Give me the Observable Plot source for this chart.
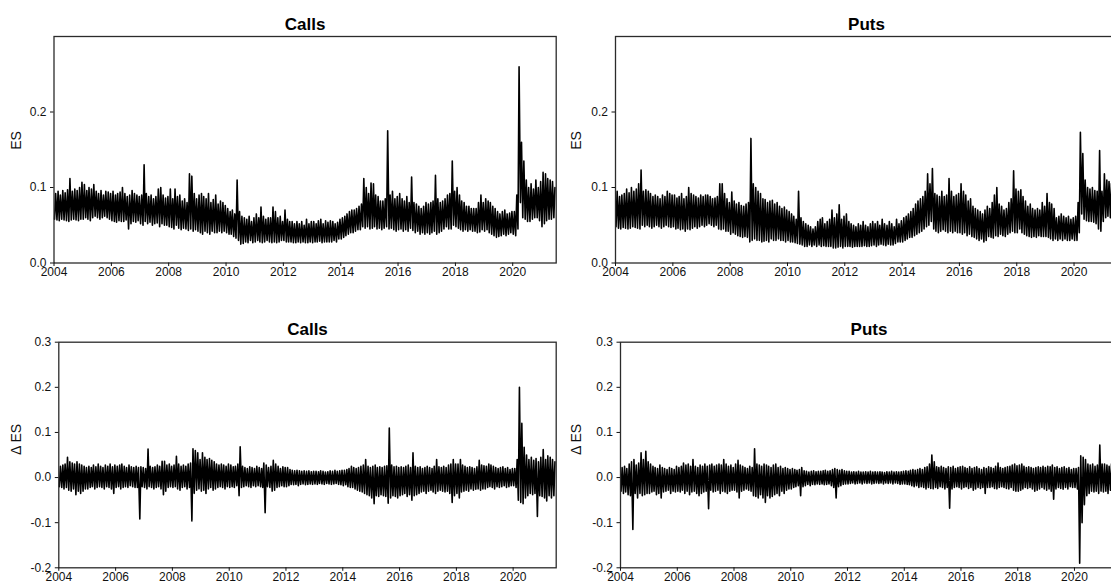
<!DOCTYPE html>
<html><head><meta charset="utf-8">
<script src="https://cdn.jsdelivr.net/npm/d3@7"></script>
<script src="https://cdn.jsdelivr.net/npm/@observablehq/plot@0.6"></script>
<style>
html,body{margin:0;padding:0;background:#fff;}
body{width:1111px;height:587px;overflow:hidden;position:relative;font-family:"Liberation Sans",Arial,Helvetica,sans-serif;}
.panel{position:absolute;}
.panel svg{max-width:none !important;}
</style></head><body>
<div id="tl" class="panel" style="left:0px;top:0px;width:560px"></div>
<div id="tr" class="panel" style="left:560px;top:0px;width:562px"></div>
<div id="bl" class="panel" style="left:0px;top:290px;width:560px"></div>
<div id="br" class="panel" style="left:560px;top:290px;width:562px"></div>
<script>
// Monthly envelope (daily min / max within each month), Jan 2004 .. Jun 2021, in units of 0.001
const firstMonth = "2004-01-01";
const endMonth = "2021-07-01";

const callsESLo = [
58,57,56,58,57,56,55,57,58,57,56,58,
58,60,58,56,60,62,60,58,60,62,60,58,
56,55,54,56,55,55,57,45,52,55,54,56,
52,50,55,52,54,50,52,53,48,52,50,50,
48,47,45,50,46,44,46,45,43,45,42,44,
42,40,38,42,40,38,42,40,40,42,40,42,
40,38,38,35,33,30,25,26,28,27,30,27,
28,30,28,27,28,30,28,27,28,27,28,30,
30,28,28,28,27,27,28,27,28,27,27,28,
27,28,28,29,27,28,28,28,28,30,28,32,
32,34,36,38,40,40,42,44,44,48,46,48,
45,46,48,45,46,44,46,48,45,46,44,42,
44,45,42,44,42,46,43,40,42,38,40,38,
40,38,40,42,38,40,42,45,48,45,45,50,
48,46,44,42,44,42,44,42,42,40,41,44,
42,44,40,38,36,34,35,36,38,36,38,40,
38,36,45,80,60,58,55,55,58,60,60,56,
48,52,56,58,58,60];
const callsESHi = [
92,95,90,96,93,97,112,95,98,96,100,107,
104,96,100,98,104,95,92,96,90,95,94,92,
95,90,92,94,100,92,88,90,96,92,90,88,
90,130,92,88,90,85,88,98,100,90,86,88,
98,85,98,88,90,82,85,80,118,115,92,85,
90,92,88,85,92,80,84,90,78,82,80,76,
72,68,70,65,110,68,62,60,58,62,55,60,
65,60,74,62,58,60,60,74,68,60,62,55,
70,58,55,55,52,55,52,55,50,58,52,55,
55,52,56,58,52,56,54,56,55,52,54,58,
60,62,65,68,70,70,72,75,78,112,100,92,
106,105,90,88,82,82,85,175,90,95,85,88,
92,85,82,88,80,114,80,78,75,72,75,80,
78,80,82,116,85,80,82,85,90,92,135,95,
100,90,82,80,75,75,72,72,72,80,90,80,
85,82,80,75,72,68,65,68,70,65,66,68,
68,90,260,160,135,110,100,105,98,110,100,108,
120,118,112,110,108,100];

const putsESLo = [
48,46,45,47,46,45,46,48,47,46,45,50,
48,50,48,46,48,50,48,46,48,50,48,47,
48,45,46,44,45,42,45,44,46,48,46,48,
50,48,50,52,50,48,50,45,44,45,42,42,
38,40,38,36,35,34,35,34,28,30,32,30,
30,28,29,30,28,32,30,30,32,30,30,28,
30,28,28,27,26,25,24,22,22,24,22,24,
22,24,22,23,22,22,22,20,20,21,22,20,
22,22,22,21,22,22,22,22,23,22,22,23,
24,22,24,25,24,23,25,24,24,26,28,28,
28,30,32,34,34,36,38,40,42,45,48,50,
55,45,42,40,42,44,42,40,42,40,42,40,
40,38,40,36,38,35,34,32,30,32,28,30,
35,34,33,36,35,38,36,35,38,40,42,40,
40,45,40,38,36,35,34,35,34,36,35,35,
35,34,32,30,32,30,32,30,32,30,30,32,
30,30,40,65,58,56,55,55,54,52,45,42,
55,60,62,60,60,58];
const putsESHi = [
95,88,90,92,98,93,100,95,98,105,123,95,
97,95,92,88,90,88,85,90,88,95,92,90,
90,86,88,92,85,88,100,92,90,88,86,90,
88,90,90,88,85,86,88,105,105,92,85,80,
94,82,78,80,76,75,78,80,165,105,100,95,
92,85,84,80,82,83,78,80,75,72,74,70,
68,65,62,58,95,60,55,52,50,48,45,48,
55,58,60,52,55,58,70,60,65,77,58,62,
65,55,52,50,48,52,50,55,50,48,52,55,
52,55,50,58,52,50,55,52,48,58,52,56,
60,62,65,68,72,78,82,85,88,95,118,105,
125,92,90,88,95,88,90,112,95,88,90,92,
105,95,90,82,85,75,72,70,68,65,70,75,
72,80,90,100,78,75,70,72,80,85,122,98,
95,97,88,82,75,78,72,70,72,70,80,75,
92,80,78,72,60,62,65,62,60,62,58,60,
62,80,173,145,110,100,98,100,96,95,149,95,
118,110,108,105,100,95];

const callsDLo = [
-20,-22,-25,-22,-28,-30,-25,-38,-30,-35,-30,-25,
-25,-22,-20,-25,-22,-20,-22,-25,-20,-22,-25,-35,
-22,-20,-25,-22,-20,-22,-18,-20,-22,-22,-92,-20,
-22,-25,-20,-22,-25,-22,-20,-25,-38,-30,-22,-20,
-22,-20,-25,-28,-22,-20,-25,-22,-96,-35,-28,-25,
-30,-28,-35,-25,-22,-28,-25,-22,-20,-22,-25,-20,
-22,-20,-22,-18,-40,-22,-20,-18,-20,-22,-18,-20,
-18,-20,-22,-78,-20,-22,-30,-28,-22,-20,-18,-20,
-20,-18,-15,-16,-15,-18,-15,-14,-16,-15,-14,-15,
-14,-15,-13,-14,-15,-13,-14,-15,-14,-13,-15,-16,
-18,-16,-20,-22,-22,-25,-28,-30,-32,-35,-38,-40,
-45,-58,-40,-42,-38,-40,-42,-57,-45,-40,-42,-45,
-40,-38,-35,-42,-38,-50,-40,-38,-35,-32,-30,-35,
-30,-28,-32,-35,-30,-28,-30,-32,-30,-35,-55,-40,
-35,-45,-32,-30,-28,-30,-25,-28,-26,-25,-28,-25,
-25,-22,-20,-22,-25,-20,-22,-20,-18,-22,-20,-18,
-18,-22,-50,-55,-58,-45,-40,-35,-38,-35,-86,-40,
-42,-45,-52,-40,-45,-40];
const callsDHi = [
25,28,30,45,35,32,30,35,30,28,25,22,
25,22,28,24,30,25,22,28,25,30,24,28,
25,28,30,25,22,28,24,22,25,22,24,22,
20,63,25,22,24,28,25,36,36,28,30,25,
28,47,30,25,28,25,30,32,64,60,55,40,
55,45,40,42,38,35,30,28,30,28,25,30,
28,24,25,30,68,25,22,20,24,22,20,25,
22,20,32,28,22,25,38,30,25,20,24,22,
22,18,16,15,16,15,14,15,14,15,13,14,
14,13,15,14,12,13,15,14,16,14,15,16,
16,18,20,25,22,20,22,25,28,40,25,22,
25,28,22,24,22,25,26,110,28,24,25,22,
24,22,25,28,22,55,25,22,24,20,22,25,
22,20,25,40,24,22,25,22,28,30,40,30,
30,40,28,25,22,24,22,20,24,38,28,26,
25,30,28,25,22,20,22,24,20,22,18,20,
20,40,200,120,67,50,40,45,38,42,35,45,
62,40,48,45,40,35];

const putsDLo = [
-30,-35,-32,-38,-40,-115,-35,-45,-35,-40,-38,-35,
-35,-32,-30,-38,-35,-45,-32,-30,-28,-35,-30,-32,
-30,-32,-28,-35,-30,-38,-32,-30,-35,-40,-35,-32,
-30,-69,-28,-32,-30,-28,-35,-30,-32,-35,-30,-28,
-28,-32,-45,-30,-28,-25,-28,-30,-40,-42,-45,-38,
-45,-55,-40,-45,-42,-38,-35,-40,-30,-35,-28,-25,
-25,-22,-20,-18,-40,-20,-18,-15,-18,-15,-16,-14,
-15,-14,-16,-15,-14,-18,-22,-45,-20,-18,-15,-14,
-14,-13,-12,-14,-13,-12,-14,-12,-13,-12,-14,-13,
-12,-13,-12,-14,-12,-13,-12,-14,-12,-13,-15,-14,
-14,-15,-16,-18,-20,-18,-22,-20,-22,-25,-22,-24,
-25,-22,-24,-20,-22,-25,-22,-68,-25,-22,-20,-22,
-25,-22,-20,-24,-22,-28,-25,-22,-24,-22,-35,-22,
-22,-20,-24,-25,-22,-20,-22,-24,-25,-22,-28,-30,
-30,-28,-25,-22,-24,-22,-25,-30,-28,-25,-22,-25,
-28,-25,-30,-48,-25,-22,-24,-26,-22,-25,-20,-22,
-22,-25,-190,-100,-60,-40,-35,-30,-32,-30,-35,-30,
-32,-30,-35,-28,-30,-25];
const putsDHi = [
22,25,20,30,35,40,28,32,55,40,58,35,
30,25,22,20,28,22,20,18,22,20,18,25,
22,25,32,28,30,25,40,25,22,28,25,30,
25,28,30,25,28,30,28,40,30,25,28,22,
30,38,28,25,22,20,25,22,64,30,28,25,
30,28,25,22,28,30,22,25,20,22,20,18,
20,18,16,18,22,15,14,12,14,15,13,14,
14,15,16,14,15,18,20,18,16,18,15,14,
14,12,13,12,14,12,12,13,12,14,12,13,
12,13,12,11,13,12,14,12,13,12,13,14,
15,14,16,18,16,18,20,18,22,24,30,50,
35,24,22,25,22,20,24,22,25,20,22,24,
25,22,20,24,20,22,24,20,18,22,20,24,
22,20,25,32,22,20,22,24,25,28,30,26,
28,30,25,22,24,22,20,22,24,22,25,22,
25,24,28,22,24,20,22,24,20,22,18,20,
20,22,48,45,40,30,28,30,25,28,72,30,
30,28,25,30,28,24];

const xTickYears = [2004,2006,2008,2010,2012,2014,2016,2018,2020];
const levelTicks = [0.0,0.1,0.2];
const deltaTicks = [-0.2,-0.1,0.0,0.1,0.2,0.3];
const titles = {tl:"Calls", tr:"Puts", bl:"Calls", br:"Puts"};
const yLabels = {level:"ES", delta:"\u0394 ES"};

const months = d3.utcMonth.range(new Date(firstMonth), new Date(endMonth));

// each month drawn as a trip from its daily low to its daily high
function zigzag(lo, hi) {
  const rows = [];
  months.forEach((m, i) => {
    rows.push({date: d3.utcDay.offset(m, 7), v: lo[i] / 1000});
    rows.push({date: d3.utcDay.offset(m, 21), v: hi[i] / 1000});
  });
  return rows;
}

const FONT = '"Liberation Sans", Arial, Helvetica, sans-serif';

function panel(el, {lo, hi, title, ylabel, yDomain, yTicks, width, height, ml, mr, mt, mb}) {
  const chart = Plot.plot({
    width, height,
    marginLeft: ml, marginRight: mr, marginTop: mt, marginBottom: mb,
    style: {fontFamily: FONT, fontSize: "12px", color: "#111", background: "transparent", overflow: "visible", maxWidth: "none"},
    x: {type: "utc", domain: [new Date("2004-01-01"), new Date("2021-07-08")]},
    y: {domain: yDomain},
    marks: [
      Plot.line(zigzag(lo, hi), {x: "date", y: "v", stroke: "black", strokeWidth: 1.6, strokeLinejoin: "round"}),
      Plot.frame({stroke: "#2b2b2b", strokeWidth: 1.3}),
      Plot.axisX(xTickYears.map(y => new Date(Date.UTC(y, 0, 1))), {
        tickSize: 3.5, tickPadding: 1, tickFormat: d3.utcFormat("%Y"), fontSize: 12, label: null, strokeWidth: 1
      }),
      Plot.axisY(yTicks, {tickSize: 3.5, tickPadding: 4, tickFormat: d => d.toFixed(1), fontSize: 12, label: null, strokeWidth: 1}),
      Plot.text([ylabel], {frameAnchor: "left", dx: -(ml - 16), rotate: -90, fontSize: 14, fill: "#111"}),
      Plot.text([title], {frameAnchor: "top", dy: -19, fontSize: 17, fontWeight: "bold", fill: "#000"})
    ]
  });
  chart.style.maxWidth = "none";
  document.getElementById(el).appendChild(chart);
}

panel("tl", {lo: callsESLo, hi: callsESHi, title: titles.tl, ylabel: yLabels.level, yDomain: [0, 0.3], yTicks: levelTicks,
  width: 560, height: 290, ml: 53.5, mr: 4.3, mt: 36, mb: 27.5});
panel("tr", {lo: putsESLo, hi: putsESHi, title: titles.tr, ylabel: yLabels.level, yDomain: [0, 0.3], yTicks: levelTicks,
  width: 562, height: 290, ml: 55, mr: 5, mt: 36, mb: 27.5});
panel("bl", {lo: callsDLo, hi: callsDHi, title: titles.bl, ylabel: yLabels.delta, yDomain: [-0.2, 0.3], yTicks: deltaTicks,
  width: 560, height: 297, ml: 58.3, mr: 4.3, mt: 51.7, mb: 19.7});
panel("br", {lo: putsDLo, hi: putsDHi, title: titles.br, ylabel: yLabels.delta, yDomain: [-0.2, 0.3], yTicks: deltaTicks,
  width: 562, height: 297, ml: 60, mr: 5, mt: 51.7, mb: 19.7});
</script>
</body></html>
